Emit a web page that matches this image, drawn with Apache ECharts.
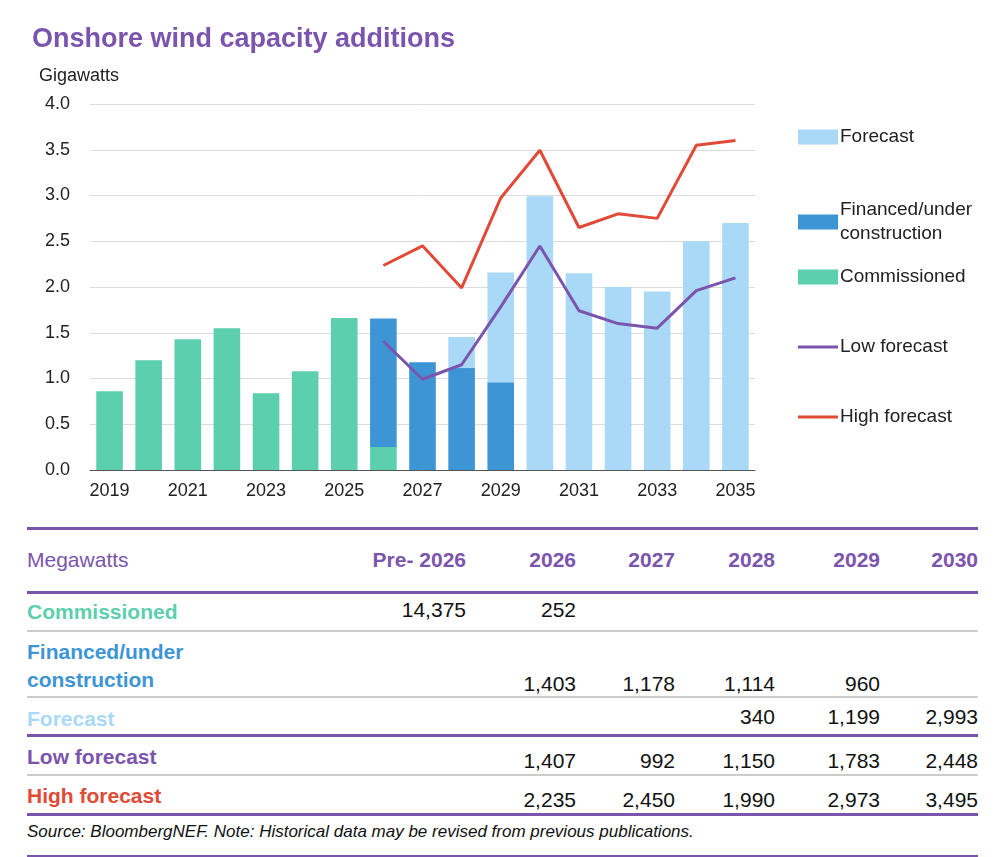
<!DOCTYPE html>
<html><head><meta charset="utf-8">
<script src="https://cdn.jsdelivr.net/npm/echarts@6/dist/echarts.min.js"></script>
<style>
body{margin:0;background:#fff;font-family:"Liberation Sans",Arial,sans-serif;}
#c{position:absolute;left:0;top:0;width:1000px;height:520px;}
.t{position:absolute;white-space:nowrap;font-size:21px;}
.ln{position:absolute;left:27px;width:951px;}
</style></head><body>
<div id="c"></div>
<div id="tbl"></div>
<script>
const years=['2019','2020','2021','2022','2023','2024','2025','2026','2027','2028','2029','2030','2031','2032','2033','2034','2035'];
const commissioned=[0.86,1.20,1.43,1.55,0.84,1.08,1.66,0.252,null,null,null,null,null,null,null,null,null];
const financed=[null,null,null,null,null,null,null,1.403,1.178,1.114,0.960,null,null,null,null,null,null];
const forecast=[null,null,null,null,null,null,null,null,null,0.340,1.199,2.993,2.15,2.00,1.95,2.50,2.70];
const lowForecast=[null,null,null,null,null,null,null,1.407,0.992,1.150,1.783,2.448,1.74,1.60,1.55,1.96,2.10];
const highForecast=[null,null,null,null,null,null,null,2.235,2.450,1.990,2.973,3.495,2.65,2.80,2.75,3.55,3.60];
const tableCols=['Pre- 2026','2026','2027','2028','2029','2030'];
const tableRows=[
 ['Commissioned',['14,375','252','','','','']],
 ['Financed/under\nconstruction',['','1,403','1,178','1,114','960','']],
 ['Forecast',['','','','340','1,199','2,993']],
 ['Low forecast',['','1,407','992','1,150','1,783','2,448']],
 ['High forecast',['','2,235','2,450','1,990','2,973','3,495']]
];
const C={com:'#5ccfae',fin:'#3d95d5',fc:'#a9d9f6',low:'#7b55ad',high:'#e04a36',pur:'#7b55ad'};
const ch=echarts.init(document.getElementById('c'));
const lg=(name,top,icon,ih)=>({data:[{name,icon}],left:793,top,itemWidth:40,itemHeight:ih,
 textStyle:{fontSize:19,color:'#222',fontFamily:'Liberation Sans',lineHeight:24,padding:[0,0,0,-3]},selectedMode:false,itemGap:0});
const lineIcon='path://M0,0H40V3H0Z';
ch.setOption({
 animation:false,
 title:[{text:'Onshore wind capacity additions',left:27,top:21,textStyle:{fontSize:27,fontWeight:'bold',color:C.pur,fontFamily:'Liberation Sans'}},
        {text:'Gigawatts',left:34,top:62,textStyle:{fontSize:18,fontWeight:'normal',color:'#222',fontFamily:'Liberation Sans'}}],
 legend:[lg('Forecast',120,'rect',15),lg('Financed/under\nconstruction',193,'rect',15),lg('Commissioned',260,'rect',15),
   lg('Low forecast',330,lineIcon,3),lg('High forecast',400,lineIcon,3)],
 grid:{left:90,width:665,top:104,height:366},
 xAxis:{type:'category',data:years,axisTick:{show:false},axisLine:{lineStyle:{color:'#555',width:1}},
   axisLabel:{interval:1,fontSize:18,color:'#222',margin:12,fontFamily:'Liberation Sans'}},
 yAxis:{type:'value',min:0,max:4,interval:0.5,axisLabel:{formatter:v=>v.toFixed(1),fontSize:18,color:'#222',margin:20,fontFamily:'Liberation Sans'},
   splitLine:{lineStyle:{color:'#dcdcdc'}},axisLine:{show:false}},
 series:[
  {name:'Commissioned',type:'bar',stack:'a',data:commissioned,itemStyle:{color:C.com},barWidth:'68%'},
  {name:'Financed/under\nconstruction',type:'bar',stack:'a',data:financed,itemStyle:{color:C.fin}},
  {name:'Forecast',type:'bar',stack:'a',data:forecast,itemStyle:{color:C.fc}},
  {name:'Low forecast',type:'line',data:lowForecast,symbol:'none',lineStyle:{color:C.low,width:3},itemStyle:{color:C.low}},
  {name:'High forecast',type:'line',data:highForecast,symbol:'none',lineStyle:{color:C.high,width:3},itemStyle:{color:C.high}}
 ]
});
const T=document.getElementById('tbl');let h='';
const line=(y,c,w)=>h+=`<div class="ln" style="top:${y}px;height:${w}px;background:${c}"></div>`;
line(527,C.pur,3);line(591,C.pur,3);line(630,'#ccc',2);line(696,'#ccc',2);line(734,C.pur,3);line(774,'#ccc',2);line(813,C.pur,3);line(855,C.pur,2);
const rights=[466,576,675,775,880,978];
h+=`<div class="t" style="left:27px;top:548px;color:${C.pur}">Megawatts</div>`;
tableCols.forEach((c,i)=>h+=`<div class="t" style="right:${1000-rights[i]}px;top:548px;color:${C.pur};font-weight:bold">${c}</div>`);
const rowTop=[598,638,705,743,782],rowCol=[C.com,C.fin,C.fc,C.low,C.high],valTop=[598,672,705,749,788];
tableRows.forEach((r,k)=>{
 h+=`<div class="t" style="left:27px;top:${rowTop[k]}px;color:${rowCol[k]};font-weight:bold;line-height:28px">${r[0].replace('\n','<br>')}</div>`;
 r[1].forEach((v,i)=>{if(v)h+=`<div class="t" style="right:${1000-rights[i]}px;top:${valTop[k]}px;color:#111">${v}</div>`;});
});
h+=`<div class="t" style="left:27px;top:822px;font-size:17px;font-style:italic;color:#111">Source: BloombergNEF. Note: Historical data may be revised from previous publications.</div>`;
T.innerHTML=h;
</script></body></html>
